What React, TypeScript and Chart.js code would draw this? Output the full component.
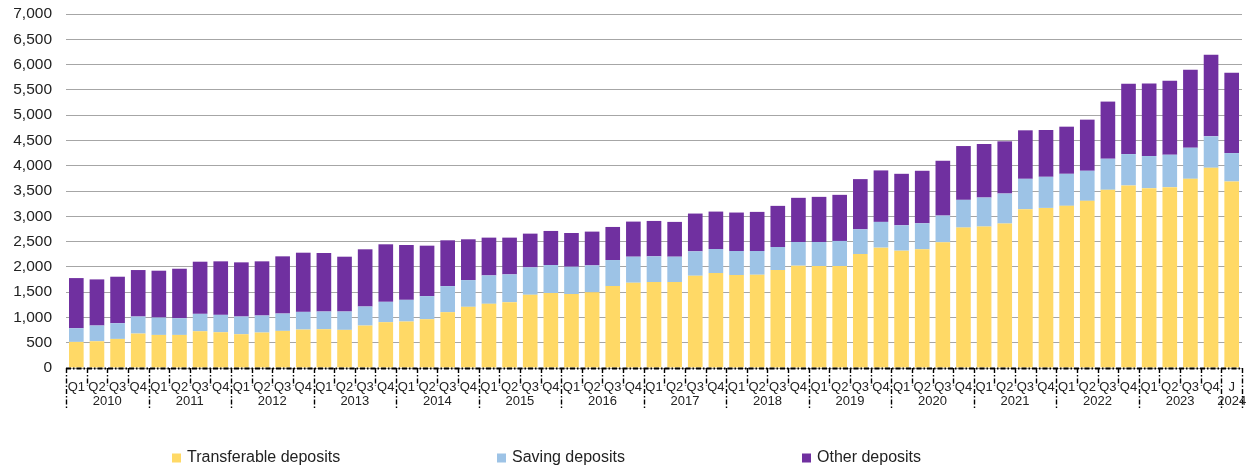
import React, { useEffect, useRef } from "react";
import { Chart, registerables } from "chart.js";

Chart.register(...registerables);

const quarterLabels = [
  "Q1", "Q2", "Q3", "Q4", "Q1", "Q2", "Q3", "Q4", "Q1", "Q2", "Q3", "Q4",
  "Q1", "Q2", "Q3", "Q4", "Q1", "Q2", "Q3", "Q4", "Q1", "Q2", "Q3", "Q4",
  "Q1", "Q2", "Q3", "Q4", "Q1", "Q2", "Q3", "Q4", "Q1", "Q2", "Q3", "Q4",
  "Q1", "Q2", "Q3", "Q4", "Q1", "Q2", "Q3", "Q4", "Q1", "Q2", "Q3", "Q4",
  "Q1", "Q2", "Q3", "Q4", "Q1", "Q2", "Q3", "Q4", "J",
];

const yearLabels = [
  "2010", "2011", "2012", "2013", "2014", "2015", "2016", "2017",
  "2018", "2019", "2020", "2021", "2022", "2023", "2024",
];
const yearCounts = [4, 4, 4, 4, 4, 4, 4, 4, 4, 4, 4, 4, 4, 4, 1];

const transferable = [
  516, 529, 575, 681, 654, 654, 727, 707, 668, 701, 734, 760,
  767, 754, 839, 906, 919, 965, 1104, 1210, 1269, 1302, 1448, 1481,
  1461, 1500, 1619, 1686, 1699, 1699, 1824, 1877, 1838, 1844, 1937, 2023,
  2016, 2016, 2254, 2380, 2320, 2347, 2485, 2776, 2796, 2856, 3140, 3166,
  3206, 3305, 3523, 3609, 3556, 3576, 3741, 3959, 3688,
];
const saving = [
  271, 311, 311, 337, 344, 331, 344, 344, 350, 337, 343, 350,
  350, 363, 377, 403, 429, 456, 515, 528, 562, 549, 542, 555,
  542, 529, 516, 515, 509, 502, 483, 476, 476, 470, 456, 469,
  476, 496, 489, 509, 502, 515, 529, 549, 575, 594, 601, 615,
  634, 595, 615, 621, 635, 641, 615, 622, 562,
];
const other = [
  991, 912, 919, 919, 926, 978, 1031, 1058, 1071, 1071, 1131, 1170,
  1157, 1084, 1131, 1137, 1084, 998, 906, 807, 747, 727, 667, 674,
  667, 668, 654, 694, 700, 688, 747, 740, 760, 773, 813, 873,
  892, 912, 992, 1018, 1018, 1038, 1084, 1064, 1058, 1032, 959, 925,
  932, 1011, 1130, 1389, 1434, 1461, 1540, 1613, 1587,
];

const seriesNames = ["Transferable deposits", "Saving deposits", "Other deposits"];
const seriesColors = ["#FFD966", "#9DC3E6", "#7030A0"];

const FONT = "'Liberation Sans', Arial, sans-serif";

function dashedLine(ctx: CanvasRenderingContext2D, x1: number, y1: number, x2: number, y2: number, w: number) {
  ctx.save();
  ctx.strokeStyle = "#000";
  ctx.lineWidth = w;
  ctx.setLineDash([5, 2, 1.5, 2]);
  ctx.beginPath();
  ctx.moveTo(x1, y1);
  ctx.lineTo(x2, y2);
  ctx.stroke();
  ctx.restore();
}

const axisPlugin = {
  id: "axisDecor",
  afterDatasetsDraw(chart: any) {
    const ctx: CanvasRenderingContext2D = chart.ctx;
    const area = chart.chartArea;
    const xs = chart.scales.x;
    const n = quarterLabels.length;
    const step = xs.getPixelForValue(1) - xs.getPixelForValue(0);
    dashedLine(ctx, area.left, area.bottom + 0.5, area.right, area.bottom + 0.5, 2);
    const yearStarts = new Set<number>();
    let acc = 0;
    yearCounts.forEach((c) => {
      yearStarts.add(acc);
      acc += c;
    });
    yearStarts.add(acc);
    for (let i = 0; i <= n; i++) {
      const x = Math.round(xs.getPixelForValue(i) - step / 2) + 0.5;
      const isYear = yearStarts.has(i);
      dashedLine(ctx, x, area.bottom, x, area.bottom + (isYear ? 40 : 18), 1.4);
    }
    ctx.save();
    ctx.fillStyle = "#222";
    ctx.font = `13px ${FONT}`;
    ctx.textAlign = "center";
    ctx.textBaseline = "middle";
    let start = 0;
    yearLabels.forEach((y, k) => {
      const c = yearCounts[k];
      const x0 = xs.getPixelForValue(start);
      const x1 = xs.getPixelForValue(start + c - 1);
      ctx.fillText(y, (x0 + x1) / 2, area.bottom + 33);
      start += c;
    });
    ctx.restore();
  },
  afterDraw(chart: any) {
    const ctx: CanvasRenderingContext2D = chart.ctx;
    const positions = [172, 497, 802];
    const cy = 458;
    ctx.save();
    ctx.font = `16px ${FONT}`;
    ctx.textBaseline = "middle";
    ctx.textAlign = "left";
    chart.data.datasets.forEach((ds: any, i: number) => {
      const x = positions[i];
      ctx.fillStyle = ds.backgroundColor;
      ctx.fillRect(x, cy - 4.5, 9, 9);
      ctx.fillStyle = "#222";
      ctx.fillText(ds.label, x + 15, cy);
    });
    ctx.restore();
  },
};

export default function App() {
  const ref = useRef<HTMLCanvasElement | null>(null);
  useEffect(() => {
    if (!ref.current) return;
    const chart = new Chart(ref.current, {
      type: "bar",
      data: {
        labels: quarterLabels,
        datasets: [transferable, saving, other].map((d, i) => ({
          label: seriesNames[i],
          data: d,
          backgroundColor: seriesColors[i],
          borderWidth: 0,
          barPercentage: 0.71,
          categoryPercentage: 1,
        })),
      },
      options: {
        responsive: false,
        animation: false,
        devicePixelRatio: 1,
        layout: { padding: { left: 0, right: 13, top: 14, bottom: 55 } },
        plugins: { legend: { display: false }, tooltip: { enabled: false } },
        scales: {
          x: {
            stacked: true,
            grid: { display: false },
            border: { display: false },
            ticks: {
              autoSkip: false,
              maxRotation: 0,
              minRotation: 0,
              padding: 4,
              color: "#222",
              font: { family: FONT, size: 13 },
            },
            afterFit: (s: any) => {
              s.height = 45;
            },
          },
          y: {
            stacked: true,
            min: 0,
            max: 7000,
            grid: { color: "#a6a6a6", lineWidth: 1, drawTicks: false },
            border: { display: false },
            ticks: {
              stepSize: 500,
              padding: 14,
              color: "#222",
              font: { family: FONT, size: 15.5 },
              callback: (v: any) => Number(v).toLocaleString("en-US"),
            },
            afterFit: (s: any) => {
              s.width = 66;
              s.paddingTop = 0;
              s.paddingBottom = 0;
            },
          },
        },
      },
      plugins: [axisPlugin],
    });
    return () => chart.destroy();
  }, []);
  return (
    <div style={{ position: "absolute", left: 0, top: 0, width: 1255, height: 468, background: "#fff" }}>
      <canvas ref={ref} width={1255} height={468} />
    </div>
  );
}
